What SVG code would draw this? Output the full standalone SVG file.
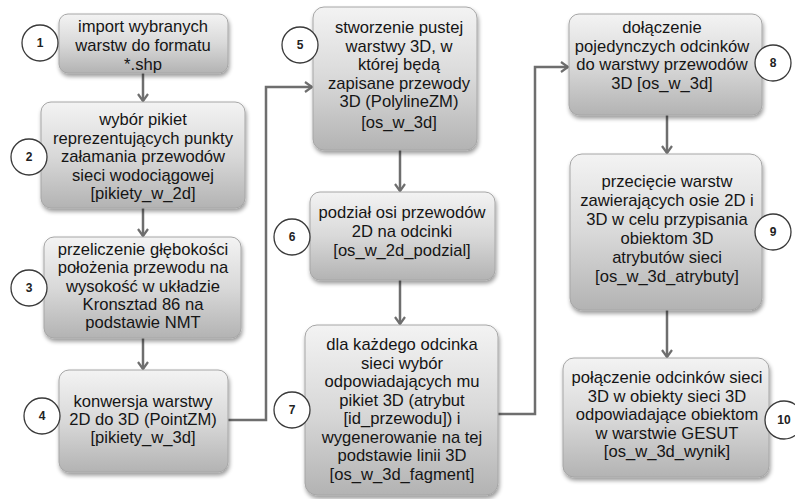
<svg xmlns="http://www.w3.org/2000/svg" width="795" height="499" viewBox="0 0 795 499">
<defs>
<linearGradient id="g" x1="0" y1="0" x2="0" y2="1">
<stop offset="0" stop-color="#f3f3f3"/>
<stop offset="0.5" stop-color="#d9d9d9"/>
<stop offset="1" stop-color="#b3b3b3"/>
</linearGradient>
<filter id="sh" x="-10%" y="-10%" width="125%" height="125%">
<feGaussianBlur in="SourceAlpha" stdDeviation="2"/>
<feOffset dx="1" dy="3"/>
<feComponentTransfer><feFuncA type="linear" slope="0.4"/></feComponentTransfer>
<feMerge><feMergeNode/><feMergeNode in="SourceGraphic"/></feMerge>
</filter>
<marker id="ar" markerWidth="12" markerHeight="12" refX="9" refY="6" orient="auto" markerUnits="userSpaceOnUse">
<path d="M2,1 L9,6 L2,11" fill="none" stroke="#6e6e6e" stroke-width="2.2"/>
</marker>
</defs>
<style>
.box{fill:url(#g);stroke:#a6a6a6;stroke-width:1;filter:url(#sh)}
.t{font-family:"Liberation Sans",Arial,sans-serif;font-size:16.6px;fill:#151515;text-anchor:middle}
.c{fill:#fff;stroke:#3a3a3a;stroke-width:1.3}
.n{font-family:"Liberation Sans",Arial,sans-serif;font-size:12px;font-weight:bold;fill:#222;text-anchor:middle}
.l{fill:none;stroke:#6e6e6e;stroke-width:2.5}
</style>
<rect width="795" height="499" fill="#fff"/>
<g id="connectors">
<path class="l" d="M143,73 V101" marker-end="url(#ar)"/>
<path class="l" d="M143,208 V236" marker-end="url(#ar)"/>
<path class="l" d="M143,338 V369" marker-end="url(#ar)"/>
<path class="l" d="M228,420 H266 V87 H312" marker-end="url(#ar)"/>
<path class="l" d="M400,150 V191" marker-end="url(#ar)"/>
<path class="l" d="M400,280 V324" marker-end="url(#ar)"/>
<path class="l" d="M498,414 H535 V67 H568" marker-end="url(#ar)"/>
<path class="l" d="M667,115 V153" marker-end="url(#ar)"/>
<path class="l" d="M667,310 V357" marker-end="url(#ar)"/>
</g>
<g id="node1">
<rect class="box" x="59" y="14" width="169" height="59" rx="9"/>
<text class="t" x="143" y="32">import wybranych</text>
<text class="t" x="143" y="51">warstw do formatu</text>
<text class="t" x="143" y="70">*.shp</text>
<circle class="c" cx="40" cy="43" r="18"/><text class="n" x="40" y="47">1</text>
</g>
<g id="node2">
<rect class="box" x="41" y="102" width="204" height="106" rx="10"/>
<text class="t" x="143" y="125">wybór pikiet</text>
<text class="t" x="143" y="143.5">reprezentujących punkty</text>
<text class="t" x="143" y="162">załamania przewodów</text>
<text class="t" x="143" y="180.5">sieci wodociągowej</text>
<text class="t" x="143" y="199">[pikiety_w_2d]</text>
<circle class="c" cx="29" cy="157" r="18"/><text class="n" x="29" y="161">2</text>
</g>
<g id="node3">
<rect class="box" x="44" y="237" width="197" height="101" rx="10"/>
<text class="t" x="143" y="255">przeliczenie głębokości</text>
<text class="t" x="143" y="273.3">położenia przewodu na</text>
<text class="t" x="143" y="291.6">wysokość w układzie</text>
<text class="t" x="143" y="309.9">Kronsztad 86 na</text>
<text class="t" x="143" y="328.2">podstawie NMT</text>
<circle class="c" cx="29" cy="288" r="18"/><text class="n" x="29" y="292">3</text>
</g>
<g id="node4">
<rect class="box" x="59" y="370" width="169" height="102" rx="10"/>
<text class="t" x="143" y="407">konwersja warstwy</text>
<text class="t" x="143" y="425">2D do 3D (PointZM)</text>
<text class="t" x="143" y="443">[pikiety_w_3d]</text>
<circle class="c" cx="42" cy="416" r="18"/><text class="n" x="42" y="420">4</text>
</g>
<g id="node5">
<rect class="box" x="313" y="7" width="164" height="143" rx="11"/>
<text class="t" x="399" y="33">stworzenie pustej</text>
<text class="t" x="399" y="51.5">warstwy 3D, w</text>
<text class="t" x="399" y="70">której będą</text>
<text class="t" x="399" y="88.5">zapisane przewody</text>
<text class="t" x="399" y="107">3D (PolylineZM)</text>
<text class="t" x="399" y="128">[os_w_3d]</text>
<circle class="c" cx="300" cy="45" r="18"/><text class="n" x="300" y="49">5</text>
</g>
<g id="node6">
<rect class="box" x="310" y="192" width="185" height="88" rx="10"/>
<text class="t" x="402" y="218">podział osi przewodów</text>
<text class="t" x="402" y="237">2D na odcinki</text>
<text class="t" x="402" y="256">[os_w_2d_podzial]</text>
<circle class="c" cx="292" cy="237" r="18"/><text class="n" x="292" y="241">6</text>
</g>
<g id="node7">
<rect class="box" x="305" y="325" width="193" height="170" rx="12"/>
<text class="t" x="402" y="350">dla każdego odcinka</text>
<text class="t" x="402" y="368.5">sieci wybór</text>
<text class="t" x="402" y="387">odpowiadających mu</text>
<text class="t" x="402" y="405.5">pikiet 3D (atrybut</text>
<text class="t" x="402" y="424">[id_przewodu]) i</text>
<text class="t" x="402" y="442.5">wygenerowanie na tej</text>
<text class="t" x="402" y="461">podstawie linii 3D</text>
<text class="t" x="402" y="479.5">[os_w_3d_fagment]</text>
<circle class="c" cx="292" cy="410" r="18"/><text class="n" x="292" y="414">7</text>
</g>
<g id="node8">
<rect class="box" x="569" y="14" width="193" height="101" rx="10"/>
<text class="t" x="662" y="33">dołączenie</text>
<text class="t" x="662" y="51.5">pojedynczych odcinków</text>
<text class="t" x="662" y="70">do warstwy przewodów</text>
<text class="t" x="662" y="88.5">3D [os_w_3d]</text>
<circle class="c" cx="773" cy="63" r="18"/><text class="n" x="773" y="67">8</text>
</g>
<g id="node9">
<rect class="box" x="570" y="154" width="192" height="156" rx="12"/>
<text class="t" x="667" y="187">przecięcie warstw</text>
<text class="t" x="667" y="206">zawierających osie 2D i</text>
<text class="t" x="667" y="225">3D w celu przypisania</text>
<text class="t" x="667" y="244">obiektom 3D</text>
<text class="t" x="667" y="263">atrybutów sieci</text>
<text class="t" x="667" y="282">[os_w_3d_atrybuty]</text>
<circle class="c" cx="773" cy="232" r="18"/><text class="n" x="773" y="236">9</text>
</g>
<g id="node10">
<rect class="box" x="563" y="358" width="206" height="119" rx="11"/>
<text class="t" x="667" y="383">połączenie odcinków sieci</text>
<text class="t" x="667" y="401.5">3D w obiekty sieci 3D</text>
<text class="t" x="667" y="420">odpowiadające obiektom</text>
<text class="t" x="667" y="438.5">w warstwie GESUT</text>
<text class="t" x="667" y="457">[os_w_3d_wynik]</text>
<circle class="c" cx="784" cy="420" r="19"/><text class="n" x="784" y="424">10</text>
</g>
</svg>
